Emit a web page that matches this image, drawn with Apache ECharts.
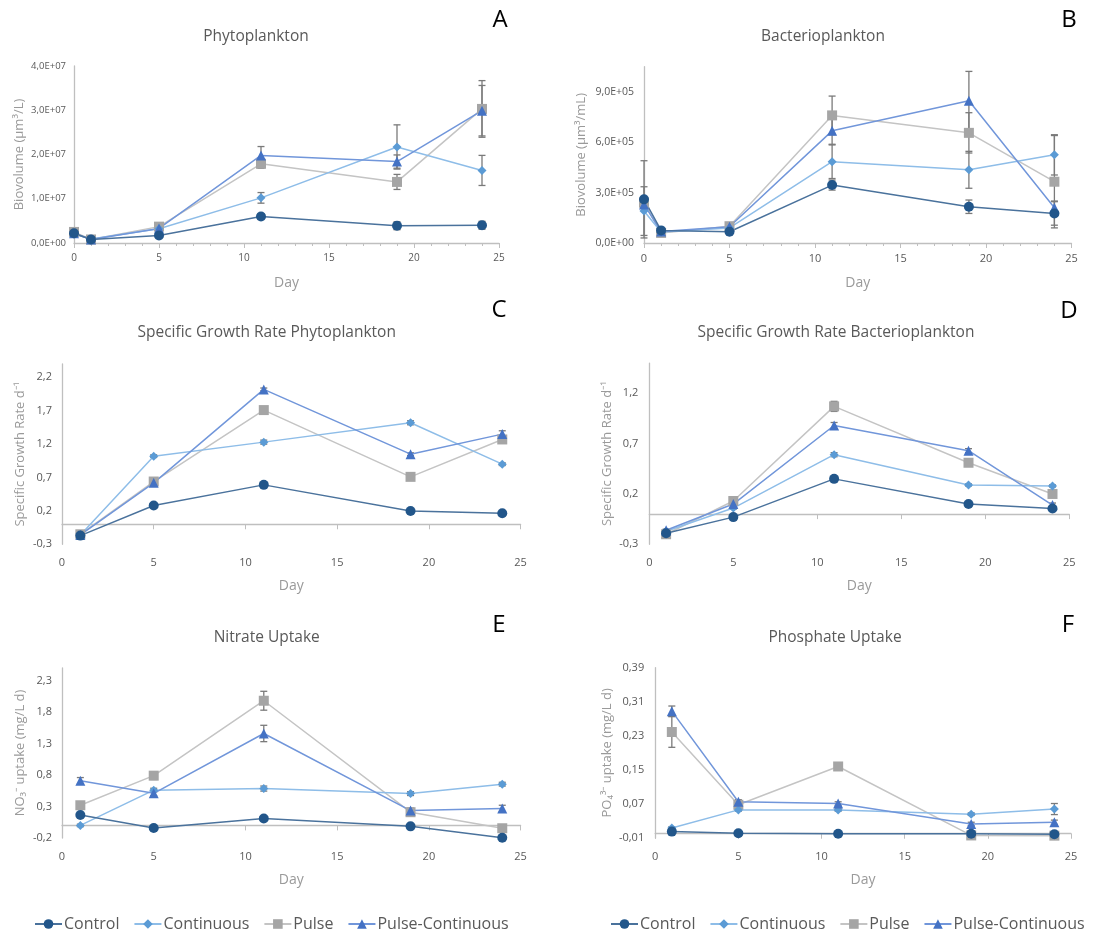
<!DOCTYPE html>
<html><head><meta charset="utf-8">
<script src="https://cdn.jsdelivr.net/npm/echarts@6/dist/echarts.min.js"></script>
<style>html,body{margin:0;padding:0;background:#fff}#c{width:1115px;height:936px}</style>
</head><body><div id="c"></div>
<script>
// ---------------- DATA ----------------
const seriesNames = ['Control', 'Continuous', 'Pulse', 'Pulse-Continuous'];
const daysAB = [0, 1, 5, 11, 19, 24];
const daysCF = [1, 5, 11, 19, 24];
const xTicks = ['0', '5', '10', '15', '20', '25'];

// A: Phytoplankton biovolume (µm³/L)
const phytoControl    = [2.2e6, 8.0e5, 1.7e6, 6.0e6, 3.9e6, 4.0e6];
const phytoContinuous = [2.0e6, 9.0e5, 3.2e6, 1.02e7, 2.17e7, 1.64e7];
const phytoPulse      = [2.5e6, 8.0e5, 3.7e6, 1.79e7, 1.38e7, 3.03e7];
const phytoPulseCont  = [2.2e6, 8.0e5, 3.3e6, 1.98e7, 1.84e7, 2.99e7];
const phytoControlErr    = [5e5, 2e5, 3e5, 6e5, 9e5, 9e5];
const phytoContinuousErr = [3e5, 2e5, 4e5, 1.2e6, 5.0e6, 3.4e6];
const phytoPulseErr      = [8e5, 2e5, 6e5, 1.0e6, 1.7e6, 6.4e6];
const phytoPulseContErr  = [3e5, 2e5, 4e5, 2.0e6, 1.5e6, 5.7e6];
const ticksA = ['0,0E+00', '1,0E+07', '2,0E+07', '3,0E+07', '4,0E+07'];

// B: Bacterioplankton biovolume (µm³/mL)
const bactControl    = [2.6e5, 7.5e4, 6.7e4, 3.45e5, 2.16e5, 1.76e5];
const bactContinuous = [1.9e5, 6.5e4, 9.0e4, 4.84e5, 4.36e5, 5.25e5];
const bactPulse      = [2.4e5, 6.0e4, 1.0e5, 7.6e5, 6.56e5, 3.65e5];
const bactPulseCont  = [2.3e5, 6.8e4, 9.7e4, 6.68e5, 8.47e5, 2.1e5];
const bactControlErr    = [2.3e5, 1e4, 1.2e4, 3e4, 4e4, 7e4];
const bactContinuousErr = [1.45e5, 1e4, 1e4, 1.0e5, 1.1e5, 1.2e5];
const bactPulseErr      = [3e4, 1e4, 1e4, 1.15e5, 1.2e5, 2.75e5];
const bactPulseContErr  = [2e4, 1e4, 1e4, 8e4, 1.75e5, 4e4];
const ticksB = ['0,0E+00', '3,0E+05', '6,0E+05', '9,0E+05'];

// C: Specific growth rate phytoplankton (d-1)
const sgrPhytoControl    = [-0.17, 0.28, 0.59, 0.20, 0.165];
const sgrPhytoContinuous = [-0.16, 1.02, 1.23, 1.52, 0.90];
const sgrPhytoPulse      = [-0.15, 0.64, 1.71, 0.71, 1.27];
const sgrPhytoPulseCont  = [-0.16, 0.62, 2.02, 1.05, 1.35];
const sgrPhytoControlErr    = [0.01, 0.02, 0.02, 0.02, 0.02];
const sgrPhytoContinuousErr = [0.01, 0.02, 0.03, 0.03, 0.02];
const sgrPhytoPulseErr      = [0.01, 0.03, 0.03, 0.02, 0.04];
const sgrPhytoPulseContErr  = [0.01, 0.02, 0.02, 0.02, 0.05];
const ticksC = ['-0,3', '0,2', '0,7', '1,2', '1,7', '2,2'];

// D: Specific growth rate bacterioplankton (d-1)
const sgrBactControl    = [-0.19, -0.03, 0.35, 0.10, 0.055];
const sgrBactContinuous = [-0.17, 0.06, 0.59, 0.29, 0.28];
const sgrBactPulse      = [-0.20, 0.13, 1.07, 0.51, 0.20];
const sgrBactPulseCont  = [-0.16, 0.10, 0.88, 0.63, 0.09];
const sgrBactControlErr    = [0.01, 0.01, 0.02, 0.01, 0.01];
const sgrBactContinuousErr = [0.01, 0.01, 0.02, 0.01, 0.01];
const sgrBactPulseErr      = [0.01, 0.02, 0.05, 0.02, 0.02];
const sgrBactPulseContErr  = [0.01, 0.02, 0.03, 0.02, 0.02];
const ticksD = ['-0,3', '0,2', '0,7', '1,2'];

// E: Nitrate uptake (mg/L d)
const nitrateControl    = [0.165, -0.04, 0.11, -0.015, -0.195];
const nitrateContinuous = [0.0, 0.56, 0.585, 0.505, 0.655];
const nitratePulse      = [0.32, 0.79, 1.98, 0.21, -0.045];
const nitratePulseCont  = [0.71, 0.51, 1.46, 0.235, 0.27];
const nitrateControlErr    = [0.02, 0.02, 0.03, 0.02, 0.02];
const nitrateContinuousErr = [0.02, 0.03, 0.04, 0.03, 0.03];
const nitratePulseErr      = [0.04, 0.06, 0.15, 0.04, 0.03];
const nitratePulseContErr  = [0.05, 0.04, 0.13, 0.04, 0.05];
const ticksE = ['-0,2', '0,3', '0,8', '1,3', '1,8', '2,3'];

// F: Phosphate uptake (mg/L d)
const phosControl    = [0.005, 0.001, 0.0, 0.0, -0.001];
const phosContinuous = [0.0135, 0.056, 0.056, 0.046, 0.058];
const phosPulse      = [0.239, 0.068, 0.158, -0.004, -0.0045];
const phosPulseCont  = [0.288, 0.075, 0.071, 0.023, 0.027];
const phosControlErr    = [0.003, 0.002, 0.002, 0.001, 0.001];
const phosContinuousErr = [0.003, 0.003, 0.003, 0.003, 0.013];
const phosPulseErr      = [0.036, 0.004, 0.004, 0.002, 0.003];
const phosPulseContErr  = [0.012, 0.005, 0.004, 0.004, 0.005];
const ticksF = ['-0,01', '0,07', '0,15', '0,23', '0,31', '0,39'];

// ---------------- PANELS ----------------
const panels = [
  { letter: 'A', title: 'Phytoplankton', yName: 'Biovolume (µm³/L)', days: daysAB,
    vals: [phytoControl, phytoContinuous, phytoPulse, phytoPulseCont],
    errs: [phytoControlErr, phytoContinuousErr, phytoPulseErr, phytoPulseContErr],
    ticks: ticksA, min: 0, max: 4e7, interval: 1e7 },
  { letter: 'B', title: 'Bacterioplankton', yName: 'Biovolume (µm³/mL)', days: daysAB,
    vals: [bactControl, bactContinuous, bactPulse, bactPulseCont],
    errs: [bactControlErr, bactContinuousErr, bactPulseErr, bactPulseContErr],
    ticks: ticksB, min: 0, max: 1.05e6, interval: 3e5 },
  { letter: 'C', title: 'Specific Growth Rate Phytoplankton', yName: 'Specific Growth Rate d⁻¹', days: daysCF,
    vals: [sgrPhytoControl, sgrPhytoContinuous, sgrPhytoPulse, sgrPhytoPulseCont],
    errs: [sgrPhytoControlErr, sgrPhytoContinuousErr, sgrPhytoPulseErr, sgrPhytoPulseContErr],
    ticks: ticksC, min: -0.3, max: 2.4, interval: 0.5 },
  { letter: 'D', title: 'Specific Growth Rate Bacterioplankton', yName: 'Specific Growth Rate d⁻¹', days: daysCF,
    vals: [sgrBactControl, sgrBactContinuous, sgrBactPulse, sgrBactPulseCont],
    errs: [sgrBactControlErr, sgrBactContinuousErr, sgrBactPulseErr, sgrBactPulseContErr],
    ticks: ticksD, min: -0.3, max: 1.5, interval: 0.5 },
  { letter: 'E', title: 'Nitrate Uptake', yName: 'NO₃⁻ uptake (mg/L d)', days: daysCF,
    vals: [nitrateControl, nitrateContinuous, nitratePulse, nitratePulseCont],
    errs: [nitrateControlErr, nitrateContinuousErr, nitratePulseErr, nitratePulseContErr],
    ticks: ticksE, min: -0.2, max: 2.5, interval: 0.5 },
  { letter: 'F', title: 'Phosphate Uptake', yName: 'PO₄³⁻ uptake (mg/L d)', days: daysCF,
    vals: [phosControl, phosContinuous, phosPulse, phosPulseCont],
    errs: [phosControlErr, phosContinuousErr, phosPulseErr, phosPulseContErr],
    ticks: ticksF, min: -0.01, max: 0.39, interval: 0.08 }
];

// layout (pixels)
const layout = [
  { grid: [74, 66, 425, 177], yLab: 9.5, xLab: 10, yNameGap: 48, yMargin: 8, xMargin: 10, xNameGap: 33, minor: true,
    title: [256, 37], letter: [500, 20] },
  { grid: [644, 66.7, 427.5, 176.3], yLab: 10.5, xLab: 11, yNameGap: 56, yMargin: 10, xMargin: 10, xNameGap: 33, minor: true,
    title: [823, 37], letter: [1069, 20] },
  { grid: [62, 364, 458.6, 180.3], yLab: 11, xLab: 11, yNameGap: 35, yMargin: 10, xMargin: 13, xNameGap: 35, minor: false,
    title: [266.7, 333], letter: [499, 310] },
  { grid: [649.3, 363.1, 420, 181.2], yLab: 11, xLab: 11, yNameGap: 36, yMargin: 11, xMargin: 13, xNameGap: 35, minor: false,
    title: [836, 333], letter: [1069, 311] },
  { grid: [62, 668, 458.6, 170], yLab: 11, xLab: 11, yNameGap: 35, yMargin: 10, xMargin: 13, xNameGap: 35, minor: false,
    title: [266.7, 638], letter: [499, 625] },
  { grid: [655.2, 667.7, 415.8, 170.3], yLab: 11, xLab: 11, yNameGap: 41, yMargin: 11, xMargin: 13, xNameGap: 35, minor: false,
    title: [835, 638], letter: [1068, 625] }
];

const styles = {
  'Control':          { symbol: 'circle',   size: 10, color: '#22568A', line: '#4A729C' },
  'Continuous':       { symbol: 'diamond',  size: 9,  color: '#5B9BD5', line: '#8EBDE8' },
  'Pulse':            { symbol: 'rect',     size: 10, color: '#A5A5A5', line: '#C4C4C4' },
  'Pulse-Continuous': { symbol: 'triangle', size: 10, color: '#4472C4', line: '#7196DA' }
};
const drawOrder = [2, 1, 3, 0]; // Pulse, Continuous, Pulse-Continuous, Control (top)

const FONT = 'Open Sans';
const axisGrey = '#BFBFBF';
const labelGrey = '#595959';
const nameGrey = '#9A9A9A';

function tickFormatter(ticks, min, interval) {
  return function (v) {
    const i = Math.round((v - min) / interval);
    if (Math.abs(min + i * interval - v) > interval * 1e-6) return '';
    return ticks[i] !== undefined ? ticks[i] : '';
  };
}

function errRender(params, api) {
  const x = api.value(0), y = api.value(1), e = api.value(2);
  if (!e) return null;
  const top = api.coord([x, y + e]);
  const bot = api.coord([x, y - e]);
  const w = 3.5;
  const st = { stroke: '#7A7A7A', lineWidth: 1.3 };
  return {
    type: 'group',
    children: [
      { type: 'line', shape: { x1: top[0], y1: top[1], x2: bot[0], y2: bot[1] }, style: st },
      { type: 'line', shape: { x1: top[0] - w, y1: top[1], x2: top[0] + w, y2: top[1] }, style: st },
      { type: 'line', shape: { x1: bot[0] - w, y1: bot[1], x2: bot[0] + w, y2: bot[1] }, style: st }
    ]
  };
}

const grid = [], xAxis = [], yAxis = [], series = [], graphic = [];

panels.forEach((p, k) => {
  const L = layout[k];
  grid.push({ left: L.grid[0], top: L.grid[1], width: L.grid[2], height: L.grid[3], containLabel: false });
  // axis line at y = 0 with ticks (no labels)
  xAxis.push({
    type: 'value', gridIndex: k, min: 0, max: 25, interval: 5, position: 'bottom',
    axisLine: { show: true, onZero: true, lineStyle: { color: axisGrey, width: 1.3 } },
    axisTick: { show: true, length: 5, lineStyle: { color: axisGrey } },
    minorTick: { show: L.minor, splitNumber: 5, length: 3, lineStyle: { color: axisGrey } },
    axisLabel: { show: false },
    splitLine: { show: false }
  });
  // labels + name at the bottom of the plot
  xAxis.push({
    type: 'value', gridIndex: k, min: 0, max: 25, interval: 5, position: 'bottom',
    name: 'Day', nameLocation: 'middle', nameGap: L.xNameGap,
    nameTextStyle: { color: nameGrey, fontSize: 14, fontFamily: FONT },
    axisLine: { show: false, onZero: false },
    axisTick: { show: false },
    axisLabel: { color: labelGrey, fontSize: L.xLab, fontFamily: FONT, margin: L.xMargin,
      formatter: tickFormatter(xTicks, 0, 5) },
    splitLine: { show: false }
  });
  const steps = (p.max - p.min) / p.interval;
  yAxis.push({
    type: 'value', gridIndex: k, min: p.min, max: p.max, interval: p.interval,
    name: p.yName, nameLocation: 'middle', nameGap: L.yNameGap,
    nameTextStyle: { color: nameGrey, fontSize: 13, fontFamily: FONT },
    axisLine: { show: true, onZero: true, lineStyle: { color: axisGrey, width: 1.3 } },
    axisTick: { show: false },
    axisLabel: { color: labelGrey, fontSize: L.yLab, fontFamily: FONT, margin: L.yMargin,
      showMaxLabel: Math.abs(steps - Math.round(steps)) < 1e-9,
      formatter: tickFormatter(p.ticks, p.min, p.interval) },
    splitLine: { show: false }
  });
  const xi = 2 * k + 1;
  drawOrder.forEach(si => {
    series.push({
      type: 'custom', name: 'err', xAxisIndex: xi, yAxisIndex: k, z: 1, silent: true,
      encode: { x: 0, y: 1 },
      renderItem: errRender,
      data: p.days.map((d, i) => [d, p.vals[si][i], p.errs[si][i]])
    });
  });
  drawOrder.forEach(si => {
    const nm = seriesNames[si], s = styles[nm];
    series.push({
      type: 'line', name: nm, xAxisIndex: xi, yAxisIndex: k, z: 3,
      symbol: s.symbol, symbolSize: s.size,
      lineStyle: { color: s.line, width: 1.5 },
      itemStyle: { color: s.color },
      emphasis: { disabled: true },
      animation: false,
      data: p.days.map((d, i) => [d, p.vals[si][i]])
    });
  });
  graphic.push({
    type: 'text', x: L.title[0], y: L.title[1],
    style: { text: p.title, fill: labelGrey, font: '15.5px "' + FONT + '"', textAlign: 'center', textVerticalAlign: 'middle' }
  });
  graphic.push({
    type: 'text', x: L.letter[0], y: L.letter[1],
    style: { text: p.letter, fill: '#000', font: '24px "' + FONT + '"', textAlign: 'center', textVerticalAlign: 'middle' }
  });
});

const legendBase = {
  data: seriesNames, orient: 'horizontal', itemWidth: 27, itemHeight: 12, itemGap: 14,
  textStyle: { fontSize: 16, color: labelGrey, fontFamily: FONT, padding: [0, 0, 0, -3] },
  selectedMode: false
};

const option = {
  backgroundColor: '#fff',
  animation: false,
  grid, xAxis, yAxis, series, graphic,
  legend: [
    Object.assign({}, legendBase, { left: 29, top: 911 }),
    Object.assign({}, legendBase, { left: 605, top: 911 })
  ]
};

const chart = echarts.init(document.getElementById('c'), null, { renderer: 'canvas' });
chart.setOption(option);
</script>
</body></html>
